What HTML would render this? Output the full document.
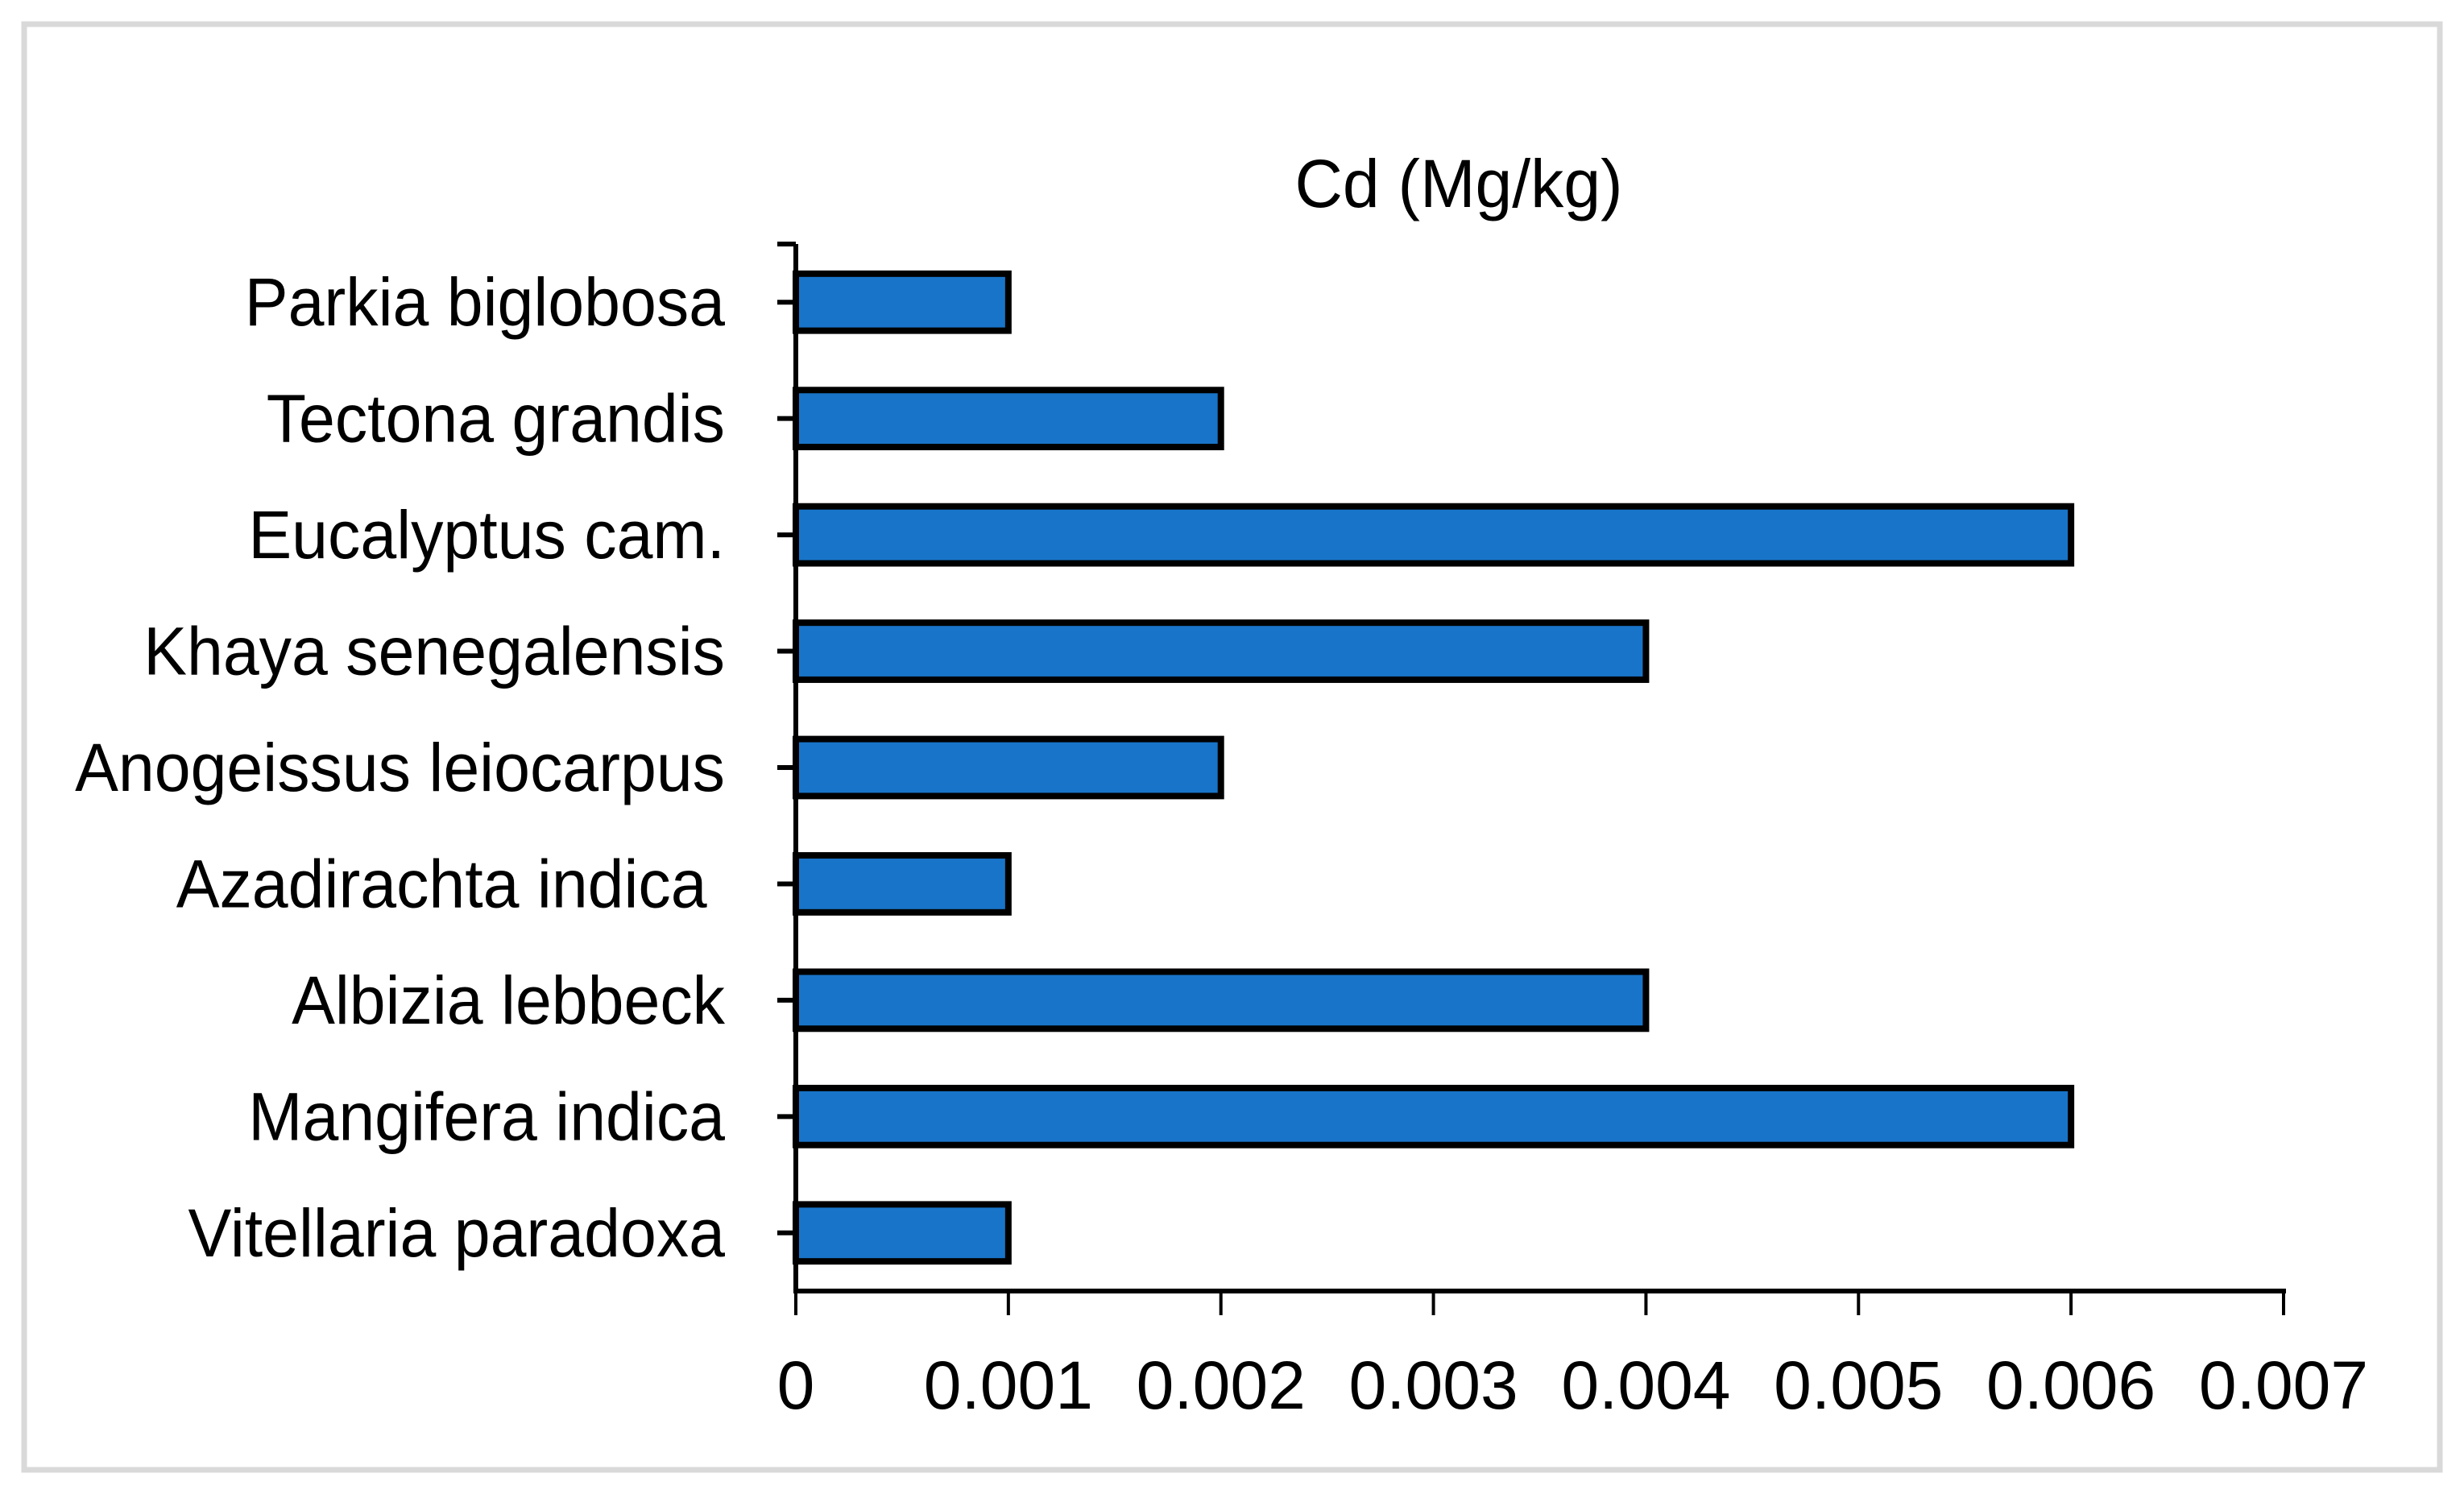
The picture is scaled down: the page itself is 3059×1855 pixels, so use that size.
<!DOCTYPE html>
<html><head><meta charset="utf-8">
<style>
html,body{margin:0;padding:0;background:#fff;}
svg{display:block;}
text{font-family:"Liberation Sans",sans-serif;fill:#000;}
</style></head>
<body>
<svg id="chart" width="3059" height="1855" viewBox="0 0 3059 1855" xmlns="http://www.w3.org/2000/svg">
<rect x="30" y="30" width="2999" height="1795" fill="#fff" stroke="#d9d9d9" stroke-width="7"/>
<text id="title" x="1811" y="257" font-size="84" text-anchor="middle">Cd (Mg/kg)</text>
<g id="plot"></g>
</svg>
<script>
const categories = ["Parkia biglobosa","Tectona grandis","Eucalyptus cam.","Khaya senegalensis","Anogeissus leiocarpus","Azadirachta indica ","Albizia lebbeck","Mangifera indica","Vitellaria paradoxa"];
const values = [0.001,0.002,0.006,0.004,0.002,0.001,0.004,0.006,0.001];
const xTicks = [0,0.001,0.002,0.003,0.004,0.005,0.006,0.007];
const xTickLabels = ["0","0.001","0.002","0.003","0.004","0.005","0.006","0.007"];

const NS="http://www.w3.org/2000/svg";
const plot=document.getElementById('plot');
const X0=988, X1=2835, XMAX=0.007, YT=303, YB=1603;
const xs=v=>X0+(v/XMAX)*(X1-X0);
const band=(YB-YT)/categories.length;
const yc=i=>YT+band*(i+0.5);
const barH=band*0.49;
function mk(tag,attrs){const e=document.createElementNS(NS,tag);for(const k in attrs)e.setAttribute(k,attrs[k]);plot.appendChild(e);return e;}
function squeeze(t,f){const w=t.getComputedTextLength();t.setAttribute('textLength',(w*f).toFixed(1));t.setAttribute('lengthAdjust','spacingAndGlyphs');}

values.forEach((v,i)=>{
  const r=mk('rect',{x:xs(0),y:yc(i)-barH/2,width:xs(v)-xs(0),height:barH,fill:'#1874c8',stroke:'#000','stroke-width':8});
  
  
});
const ya=mk('line',{x1:X0,y1:YT,x2:X0,y2:YB,stroke:'#000','stroke-width':6});


for(let i=0;i<categories.length;i++){
  const tk=mk('line',{x1:965,y1:yc(i),x2:X0,y2:yc(i),stroke:'#000','stroke-width':6});
  
  
}
const topTick=mk('line',{x1:965,y1:YT,x2:X0,y2:YT,stroke:'#000','stroke-width':6});


categories.forEach((c,i)=>{
  const t=mk('text',{x:900,y:yc(i)+29,'font-size':84,'text-anchor':'end',style:'white-space:pre'});
  t.textContent=c;
  
  
  squeeze(t,0.96);
});
const xa=mk('line',{x1:X0-3,y1:YB,x2:X1+3,y2:YB,stroke:'#000','stroke-width':6});


xTicks.forEach((v,i)=>{
  const tk=mk('line',{x1:xs(v),y1:YB,x2:xs(v),y2:1633,stroke:'#000','stroke-width':4});
  
  
  const t=mk('text',{x:xs(v),y:1749,'font-size':84,'text-anchor':'middle'});
  t.textContent=xTickLabels[i];
  
  
});
squeeze(document.getElementById('title'),0.98);
</script>
</body></html>
